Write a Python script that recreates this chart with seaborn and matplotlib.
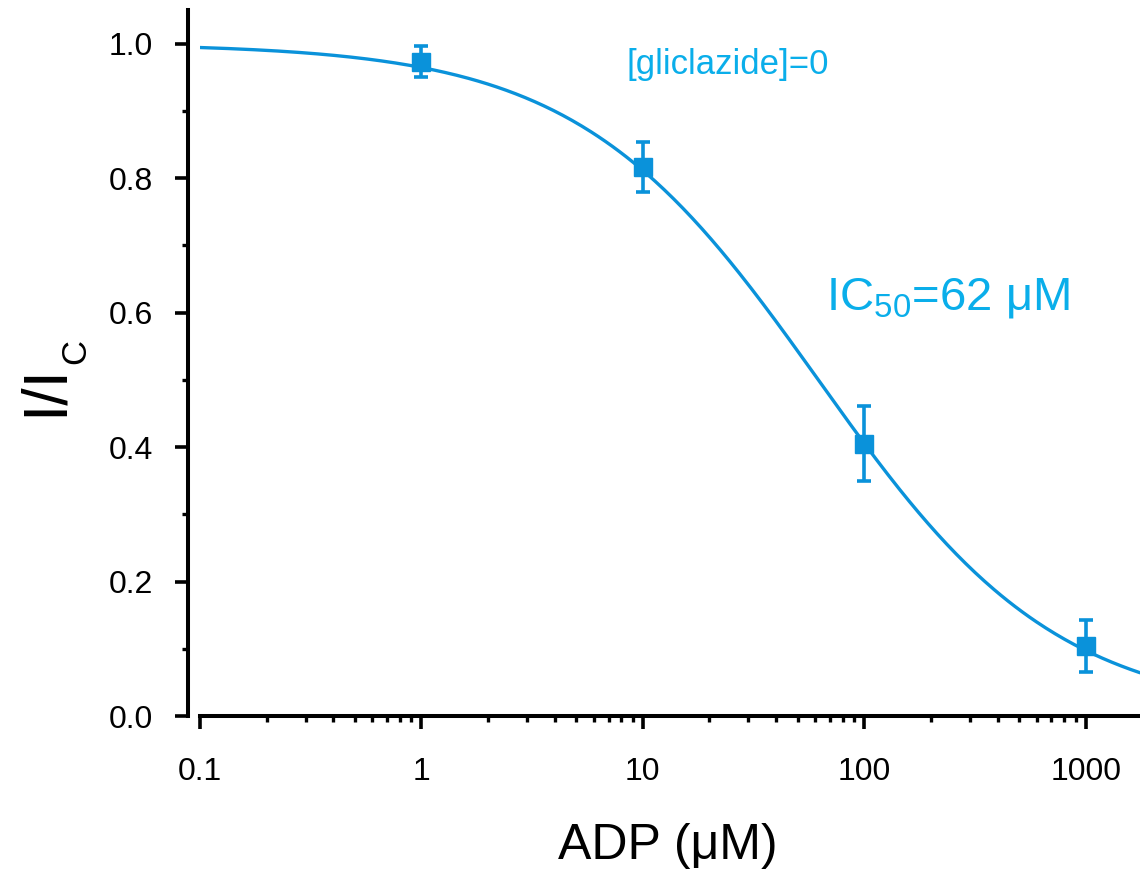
import numpy as np
import pandas as pd
import matplotlib
matplotlib.use("Agg")
import matplotlib.pyplot as plt
from matplotlib.ticker import FixedLocator, FixedFormatter, LogLocator, MultipleLocator, NullFormatter
import seaborn as sns

# Measured ADP inhibition (mean ± SEM)
adp_conc = [1, 10, 100, 1000]            # µM
rel_current = [0.973, 0.816, 0.405, 0.104]
rel_err = [0.023, 0.037, 0.056, 0.039]

# Hill fit parameters
ic50 = 62.0
hill = 0.8

x_ticks = [0.1, 1, 10, 100, 1000]
x_tick_labels = ["0.1", "1", "10", "100", "1000"]
y_ticks = [0.0, 0.2, 0.4, 0.6, 0.8, 1.0]
y_tick_labels = ["0.0", "0.2", "0.4", "0.6", "0.8", "1.0"]

DATA_BLUE = "#0A92DA"
TEXT_BLUE = "#0AAEEA"

W, H = 1140, 876

sns.set_theme(style="ticks")
plt.rcParams["font.family"] = ["Liberation Sans", "DejaVu Sans"]
plt.rcParams["mathtext.fontset"] = "custom"
plt.rcParams["mathtext.rm"] = "Liberation Sans"
plt.rcParams["mathtext.default"] = "regular"

fig = plt.figure(figsize=(W / 100, H / 100), dpi=100)
ax = fig.add_axes([200 / W, 1 - 716 / H, 940 / W, 706 / H])

# fitted dose-response curve
x_fit = np.logspace(-1, np.log10(1760), 400)
fit = pd.DataFrame({"adp": x_fit, "ratio": 1.0 / (1.0 + (x_fit / ic50) ** hill)})
sns.lineplot(data=fit, x="adp", y="ratio", ax=ax, color=DATA_BLUE, lw=2.4, zorder=2)

# measured points
ax.errorbar(adp_conc, rel_current, yerr=rel_err, fmt="s", color=DATA_BLUE,
            ms=13, elinewidth=2.6, capsize=5.2, capthick=2.6, zorder=3)

ax.set_xscale("log")
ax.set_xlim(0.1, 1760)
ax.set_ylim(0, 1.05)

ax.xaxis.set_major_locator(FixedLocator(x_ticks))
ax.xaxis.set_major_formatter(FixedFormatter(x_tick_labels))
ax.xaxis.set_minor_locator(LogLocator(base=10, subs=np.arange(2, 10)))
ax.xaxis.set_minor_formatter(NullFormatter())
ax.yaxis.set_major_locator(FixedLocator(y_ticks))
ax.yaxis.set_major_formatter(FixedFormatter(y_tick_labels))
ax.yaxis.set_minor_locator(MultipleLocator(0.1))

for side in ("top", "right"):
    ax.spines[side].set_visible(False)
for side in ("left", "bottom"):
    ax.spines[side].set_linewidth(2.9)
    ax.spines[side].set_color("black")
ax.spines["left"].set_position(("outward", 8.6))

ax.tick_params(axis="both", which="major", direction="out", length=9.5, width=2.6,
               color="black", labelsize=23, labelcolor="black")
ax.tick_params(axis="both", which="minor", direction="out", length=4.5, width=2.4,
               color="black")
ax.tick_params(axis="x", which="major", pad=20)
ax.tick_params(axis="y", which="major", pad=16)

ax.set_xlabel("ADP (μM)", fontsize=36, color="black")
ax.xaxis.set_label_coords(0.498, -0.152)
ax.set_ylabel("")

# y-axis title: I/I with a subscript C, set as two rotated pieces
fig.text(62 / W, 1 - 416 / H, "I/I", fontsize=45, rotation=90,
         rotation_mode="anchor", ha="left", va="baseline", color="black")
fig.text(85 / W, 1 - 364 / H, "C", fontsize=25, rotation=90,
         rotation_mode="anchor", ha="left", va="baseline", color="black")

ax.text(8.4, 0.955, "[gliclazide]=0", fontsize=25, color=TEXT_BLUE,
        ha="left", va="baseline")
ax.text(67, 0.605, "IC$_{50}$=62 μM", fontsize=34, color=TEXT_BLUE,
        ha="left", va="baseline")

ax.grid(False)
fig.savefig("out.png", dpi=100)
